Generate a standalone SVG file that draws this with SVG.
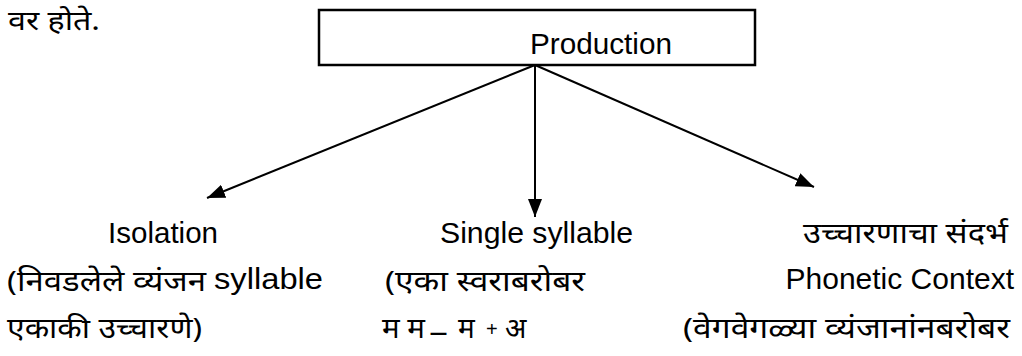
<svg xmlns="http://www.w3.org/2000/svg" width="1022" height="356" viewBox="0 0 1022 356">
<style>
.t{font-family:"Liberation Sans","Noto Sans",sans-serif;font-size:30px;fill:#000}
.d{font-family:"Noto Sans","Liberation Sans",sans-serif;font-size:28px;fill:#000}
.ln{stroke:#000;stroke-width:2;fill:none}
</style>
<defs>
<marker id="ah" viewBox="0 0 18 14" refX="18" refY="7" markerWidth="18" markerHeight="14" markerUnits="userSpaceOnUse" orient="auto">
<path d="M0,0 L18,7 L0,14 Z" fill="#000"/>
</marker>
</defs>
<rect width="1022" height="356" fill="#fff"/>
<text class="d" x="8" y="30" style="font-size:27px" textLength="92" lengthAdjust="spacingAndGlyphs">वर होते.</text>
<g id="production">
<rect x="319" y="10" width="436" height="55" fill="#fff" stroke="#000" stroke-width="2.5"/>
<text class="t" x="530" y="54" textLength="142" lengthAdjust="spacingAndGlyphs">Production</text>
</g>
<g id="connectors">
<line class="ln" x1="535" y1="65" x2="207" y2="198" marker-end="url(#ah)"/>
<line class="ln" x1="535" y1="65" x2="535" y2="217" marker-end="url(#ah)"/>
<line class="ln" x1="535" y1="65" x2="814" y2="187" marker-end="url(#ah)"/>
</g>
<g id="isolation">
<text class="t" x="108" y="243" textLength="110" lengthAdjust="spacingAndGlyphs">Isolation</text>
<text class="d" x="7" y="291" textLength="199" lengthAdjust="spacingAndGlyphs">(निवडलेले व्यंजन</text>
<text class="t" x="214" y="289" textLength="109" lengthAdjust="spacingAndGlyphs">syllable</text>
<text class="d" x="7" y="338" textLength="195" lengthAdjust="spacingAndGlyphs">एकाकी उच्चारणे)</text>
</g>
<g id="single">
<text class="t" x="440" y="243" textLength="193" lengthAdjust="spacingAndGlyphs">Single syllable</text>
<text class="d" x="385" y="291" textLength="200" lengthAdjust="spacingAndGlyphs">(एका स्वराबरोबर</text>
<text class="d" x="382" y="338" textLength="43" lengthAdjust="spacingAndGlyphs">म म</text>
<text class="d" x="429" y="341" textLength="19" lengthAdjust="spacingAndGlyphs">–</text>
<text class="d" x="458" y="338">म</text>
<text class="t" x="486" y="336" style="font-size:20px">+</text>
<text class="d" x="505" y="338">अ</text>
</g>
<g id="context">
<text class="d" x="803" y="243" textLength="205" lengthAdjust="spacingAndGlyphs">उच्चारणाचा संदर्भ</text>
<text class="t" x="1014" y="289" text-anchor="end">Phonetic Context</text>
<text class="d" x="683" y="338" textLength="327" lengthAdjust="spacingAndGlyphs">(वेगवेगळ्या व्यंजानांनबरोबर</text>
</g>
</svg>
